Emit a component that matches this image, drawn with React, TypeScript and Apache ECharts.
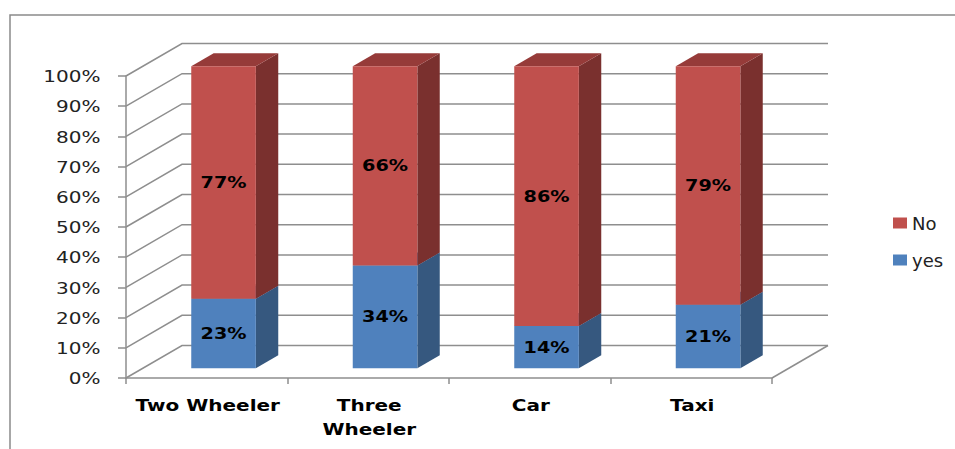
import React, { useEffect, useRef } from "react";
import * as echarts from "echarts";

// ---- data ----
const categories = ["Two Wheeler", "Three\nWheeler", "Car", "Taxi"];
const yesShare = [23, 34, 14, 21];
const noShare = [77, 66, 86, 79];
const yTicks = [0, 10, 20, 30, 40, 50, 60, 70, 80, 90, 100];
const yTickLabels = ["0%", "10%", "20%", "30%", "40%", "50%", "60%", "70%", "80%", "90%", "100%"];
const legendNames = ["No", "yes"];

// ---- styling ----
const DX = 56;
const DY = -32.5;
const BAR_FRONT = 0.3;
const BAR_DEPTH = 0.4;
const BAR_WIDTH = 0.4;
const GRID_COLOR = "#8e8e8e";
const FONT = "DejaVu Sans";
const SX = 1.25;

const blue = { front: "#4F81BD", side: "#36587F", top: "#4570A3" };
const red = { front: "#C0504D", side: "#7A302E", top: "#963B39" };

function barRender(colors: any) {
  return (params: any, api: any) => {
    const cat = api.value(0);
    const base = api.value(1);
    const val = api.value(2);
    const bw = api.size([1, 0])[0];
    const c = api.coord([cat, base]);
    const t = api.coord([cat, base + val]);
    const w = bw * BAR_WIDTH;
    const x0 = c[0] - w / 2 + DX * BAR_FRONT;
    const x1 = x0 + w;
    const yb = c[1] + DY * BAR_FRONT;
    const yt = t[1] + DY * BAR_FRONT;
    const dx = DX * BAR_DEPTH;
    const dy = DY * BAR_DEPTH;
    return {
      type: "group",
      children: [
        {
          type: "polygon",
          shape: { points: [[x1, yb], [x1 + dx, yb + dy], [x1 + dx, yt + dy], [x1, yt]] },
          style: { fill: colors.side },
        },
        {
          type: "polygon",
          shape: { points: [[x0, yt], [x1, yt], [x1 + dx, yt + dy], [x0 + dx, yt + dy]] },
          style: { fill: colors.top },
        },
        {
          type: "rect",
          shape: { x: x0, y: yt, width: w, height: yb - yt },
          style: { fill: colors.front },
        },
        {
          type: "text",
          x: (x0 + x1) / 2,
          y: (yt + yb) / 2,
          scaleX: 1.2,
          style: {
            text: val + "%",
            fill: "#000",
            font: `bold 16px "${FONT}"`,
            textAlign: "center",
            textVerticalAlign: "middle",
          },
        },
      ],
    };
  };
}

export default function App() {
  const ref = useRef<HTMLDivElement>(null);
  useEffect(() => {
    if (!ref.current) return;
    const chart = echarts.init(ref.current, undefined, { renderer: "svg" });
    const option: any = {
      animation: false,
      backgroundColor: "#ffffff",
      graphic: [
        {
          type: "rect",
          shape: { x: 10, y: 15, width: 1000, height: 500 },
          style: { fill: "none", stroke: "#8a8a8a", lineWidth: 1.5 },
          silent: true,
          z: -10,
        },
      ],
      legend: {
        data: legendNames,
        orient: "vertical",
        left: 888,
        top: 208,
        itemWidth: 14,
        itemHeight: 11,
        itemGap: 17,
        icon: "rect",
        selectedMode: false,
        textStyle: { fontFamily: FONT, fontSize: 18, color: "#222", lineHeight: 20 },
      },
      grid: { left: 126, right: 183, top: 76, bottom: 71 },
      xAxis: {
        type: "category",
        data: categories,
        boundaryGap: true,
        axisLine: { show: true, lineStyle: { color: GRID_COLOR, width: 1.5 } },
        axisTick: { show: true, length: 6, lineStyle: { color: GRID_COLOR, width: 1.5 } },
        axisLabel: { show: false },
        splitLine: { show: false },
      },
      yAxis: {
        type: "value",
        min: 0,
        max: 100,
        interval: 10,
        axisLine: { show: true, lineStyle: { color: GRID_COLOR, width: 1.5 } },
        axisTick: { show: true, length: 8, lineStyle: { color: GRID_COLOR, width: 1.5 } },
        axisLabel: { show: false },
        splitLine: { show: false },
      },
      series: [
        {
          type: "custom",
          name: "walls",
          silent: true,
          clip: false,
          z: 1,
          data: yTicks.map((v) => [0, v]),
          encode: { x: 0, y: 1 },
          renderItem: (params: any, api: any) => {
            const cs = params.coordSys;
            const p = api.coord([0, api.value(1)]);
            const x0 = cs.x;
            const x1 = cs.x + cs.width;
            const y = p[1];
            const children: any[] = [
              {
                type: "polyline",
                shape: { points: [[x0, y], [x0 + DX, y + DY], [x1 + DX, y + DY]] },
                style: { stroke: GRID_COLOR, lineWidth: 1.5, fill: "none" },
              },
            ];
            if (api.value(1) === 0) {
              children.push({
                type: "line",
                shape: { x1: x1, y1: y, x2: x1 + DX, y2: y + DY },
                style: { stroke: GRID_COLOR, lineWidth: 1.5 },
              });
            }
            return { type: "group", children };
          },
        },
        {
          type: "custom",
          name: "yes",
          clip: false,
          z: 3,
          itemStyle: { color: blue.front },
          data: categories.map((_, i) => [i, 0, yesShare[i]]),
          encode: { x: 0, y: 1 },
          renderItem: barRender(blue),
        },
        {
          type: "custom",
          name: "No",
          clip: false,
          z: 3,
          itemStyle: { color: red.front },
          data: categories.map((_, i) => [i, yesShare[i], noShare[i]]),
          encode: { x: 0, y: 1 },
          renderItem: barRender(red),
        },
        {
          type: "custom",
          name: "yLabels",
          silent: true,
          clip: false,
          z: 4,
          data: yTicks.map((v) => [0, v]),
          encode: { x: 0, y: 1 },
          renderItem: (params: any, api: any) => {
            const cs = params.coordSys;
            const p = api.coord([0, api.value(1)]);
            return {
              type: "text",
              x: cs.x - 25.5,
              y: p[1] + 0.5,
              scaleX: SX,
              style: {
                text: yTickLabels[params.dataIndex],
                fill: "#222",
                font: `16px "${FONT}"`,
                textAlign: "right",
                textVerticalAlign: "middle",
              },
            };
          },
        },
        {
          type: "custom",
          name: "xLabels",
          silent: true,
          clip: false,
          z: 4,
          data: categories.map((_, i) => [i, 0]),
          encode: { x: 0, y: 1 },
          renderItem: (params: any, api: any) => {
            const p = api.coord([api.value(0), 0]);
            return {
              type: "text",
              x: p[0] + 1,
              y: p[1] + 15.5,
              scaleX: SX,
              style: {
                text: categories[params.dataIndex],
                fill: "#000",
                font: `bold 16px "${FONT}"`,
                lineHeight: 24,
                textAlign: "center",
                textVerticalAlign: "top",
              },
            };
          },
        },
      ],
    };
    chart.setOption(option);
    return () => chart.dispose();
  }, []);
  return (
    <div
      ref={ref}
      style={{ position: "absolute", left: 0, top: 0, width: 955, height: 449, background: "#fff" }}
    />
  );
}
